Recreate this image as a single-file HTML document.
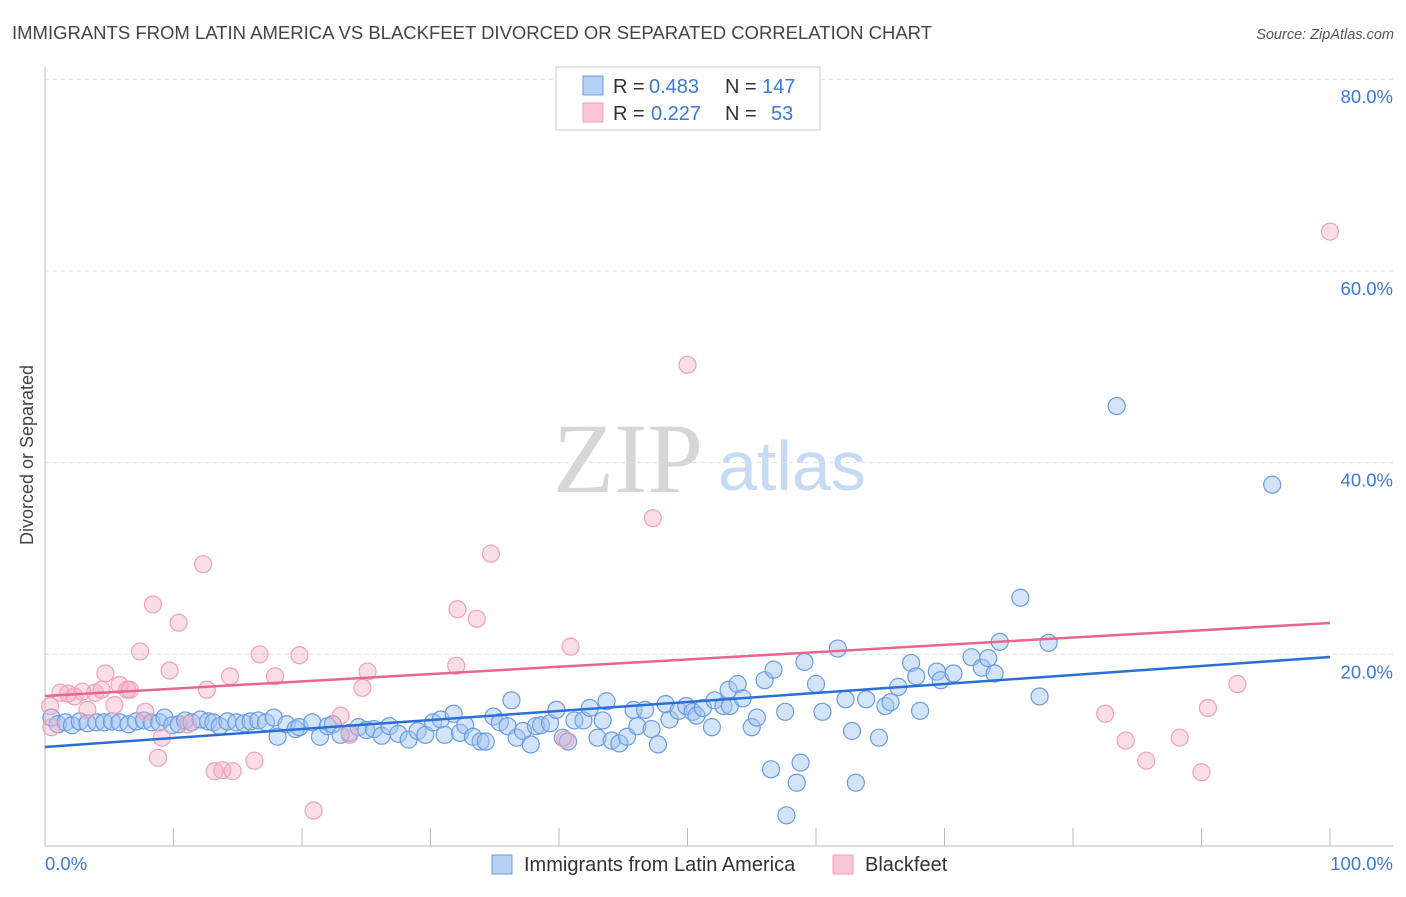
<!DOCTYPE html>
<html><head><meta charset="utf-8"><style>
body{margin:0;background:#fff}
svg text{font-family:"Liberation Sans",sans-serif}
</style></head><body>
<svg id="chart" width="1406" height="892" xmlns="http://www.w3.org/2000/svg">
<text x="12" y="39" font-size="18.5" fill="#444" textLength="920">IMMIGRANTS FROM LATIN AMERICA VS BLACKFEET DIVORCED OR SEPARATED CORRELATION CHART</text>
<text x="1394" y="39" font-size="14.5" fill="#555" font-style="italic" text-anchor="end">Source: ZipAtlas.com</text>
<text transform="translate(33,455) rotate(-90)" font-size="18" fill="#444" text-anchor="middle">Divorced or Separated</text>
<g>
<text x="553" y="492" style="font-family:'Liberation Serif',serif" font-size="100" fill="#d6d6d6">ZIP</text>
<text x="718" y="490" font-size="70" fill="#c6daf3">atlas</text>
</g>
<g id="grid"></g>
<g id="axes"></g>
<g id="pts"></g>
<g id="lines"></g>
<g>
<rect x="556" y="67" width="264" height="63" fill="#fff" stroke="#ccc"/>
<rect x="583" y="76" width="20" height="19" fill="#b7d1f4" stroke="#6a9be0"/>
<rect x="583" y="103" width="20" height="19" fill="#f9c7d5" stroke="#f0a0b8"/>
<text x="613" y="93" font-size="20" fill="#333">R =</text>
<text x="649" y="93" font-size="20" fill="#3b78d8">0.483</text>
<text x="725" y="93" font-size="20" fill="#333">N =</text>
<text x="762" y="93" font-size="20" fill="#3b78d8">147</text>
<text x="613" y="120" font-size="20" fill="#333">R =</text>
<text x="651" y="120" font-size="20" fill="#3b78d8">0.227</text>
<text x="725" y="120" font-size="20" fill="#333">N =</text>
<text x="771" y="120" font-size="20" fill="#3b78d8">53</text>
</g>
<g>
<rect x="492" y="855" width="20" height="19" fill="#b7d1f4" stroke="#6a9be0"/>
<text x="524" y="871" font-size="20" fill="#333">Immigrants from Latin America</text>
<rect x="833" y="855" width="20" height="19" fill="#f9c7d5" stroke="#f0a0b8"/>
<text x="865" y="871" font-size="20" fill="#333">Blackfeet</text>
</g>
</svg>
<script>
const yTicks=[20,40,60,80];
const yTickLabels=["20.0%","40.0%","60.0%","80.0%"];
const xTicks=[0,10,20,30,40,50,60,70,80,90,100];
const xEndLabels=["0.0%","100.0%"];
const blueX=[0.5,1.0,1.6,2.1,2.7,3.3,4.0,4.6,5.2,5.8,6.5,7.1,7.7,8.3,8.9,9.3,9.9,10.4,10.9,11.4,12.1,12.7,13.1,13.6,14.2,14.9,15.5,16.0,16.6,17.2,17.8,18.1,18.8,19.5,19.8,20.8,21.4,22.0,22.4,23.0,23.7,24.4,25.0,25.6,26.2,26.8,27.5,28.3,29.0,29.6,30.2,30.8,31.1,31.8,32.3,32.7,33.3,33.9,34.3,34.9,35.4,36.0,36.3,36.7,37.2,37.8,38.2,38.6,39.3,39.8,40.3,40.7,41.2,41.9,42.4,43.0,43.4,43.7,44.1,44.7,45.3,45.8,46.1,46.7,47.2,47.7,48.6,48.3,49.3,49.9,50.4,50.7,51.2,51.9,52.1,52.8,53.2,53.3,53.9,54.3,55.0,55.4,56.0,56.7,57.6,56.5,58.5,58.8,59.1,60.0,60.5,61.7,62.3,62.8,63.1,63.9,64.9,65.4,65.8,66.4,67.4,67.8,68.1,69.4,69.7,70.7,72.1,72.9,73.4,73.9,74.3,75.9,77.4,78.1,83.4,95.5,57.7];
const blueY=[13.4,12.7,12.9,12.6,13.0,12.8,12.9,12.9,13.0,12.9,12.7,13.0,13.1,12.9,12.9,13.4,12.6,12.7,13.1,12.9,13.2,13.0,12.9,12.5,13.0,12.9,12.8,13.0,13.1,12.9,13.4,11.4,12.7,12.2,12.4,12.9,11.4,12.5,12.7,11.6,11.8,12.4,12.1,12.2,11.5,12.5,11.7,11.1,12.0,11.6,12.9,13.2,11.6,13.8,11.8,12.6,11.4,10.9,10.9,13.5,12.9,12.5,15.2,11.3,12.0,10.6,12.5,12.6,12.8,14.2,11.3,10.9,13.1,13.1,14.4,11.3,13.1,15.1,11.0,10.7,11.4,14.2,12.5,14.2,12.2,10.6,13.2,14.8,14.1,14.6,14.0,13.6,14.4,12.4,15.2,14.6,16.3,14.6,16.9,15.4,12.4,13.4,17.3,18.4,14.0,8.0,6.6,8.7,19.2,16.9,14.0,20.6,15.3,12.0,6.6,15.3,11.3,14.6,15.0,16.6,19.1,17.7,14.1,18.2,17.3,18.0,19.7,18.6,19.6,18.0,21.3,25.9,15.6,21.2,45.9,37.7,3.2];
const pinkX=[0.4,0.5,1.2,1.8,2.3,2.9,3.3,3.9,4.4,4.7,5.4,5.8,6.4,6.6,7.4,7.8,8.4,8.8,9.1,9.7,10.4,11.1,12.3,12.6,13.2,13.8,14.4,14.6,16.3,16.7,17.9,19.8,20.9,23.0,23.7,24.7,25.1,32.0,32.1,33.6,34.7,40.5,40.9,47.3,50.0,82.5,84.1,85.7,88.3,90.0,90.5,92.8,100];
const pinkY=[14.6,12.4,16.0,15.9,15.6,16.1,14.2,16.0,16.3,18.0,14.7,16.8,16.3,16.3,20.3,14.0,25.2,9.2,11.3,18.3,23.3,12.7,29.4,16.3,7.8,7.9,17.7,7.8,8.9,20.0,17.7,19.9,3.7,13.6,11.6,16.5,18.2,18.8,24.7,23.7,30.5,11.1,20.8,34.2,50.2,13.8,11.0,8.9,11.3,7.7,14.4,16.9,64.1];
const blueTrend=[10.33,19.72];
const pinkTrend=[15.65,23.27];

const NS="http://www.w3.org/2000/svg";
const X=v=>45+v*12.85, Y=v=>846-v*9.585;
function mk(tag,parent,attrs){const e=document.createElementNS(NS,tag);for(const k in attrs)e.setAttribute(k,attrs[k]);document.getElementById(parent).appendChild(e);return e;}
yTicks.forEach((t,i)=>{
 const g=mk('line','grid',{x1:45,x2:1393,y1:Y(t),y2:Y(t),stroke:'#ddd','stroke-dasharray':'4,4'});
 
 
 const l=mk('text','grid',{x:1393,y:Y(t)+24,'font-size':18.5,fill:'#3b78d8','text-anchor':'end'});
 l.textContent=yTickLabels[i];
 
 
});
const ya=mk('line','axes',{x1:45,x2:45,y1:67,y2:846,stroke:'#bbb'});


const xa=mk('line','axes',{x1:45,x2:1393,y1:846,y2:846,stroke:'#bbb'});


xTicks.forEach(t=>{
 const tk=mk('line','axes',{x1:X(t),x2:X(t),y1:828,y2:846,stroke:'#bbb'});
 
 
});
const l0=mk('text','axes',{x:45,y:870,'font-size':18.5,fill:'#3b78d8'});l0.textContent=xEndLabels[0];


const l1=mk('text','axes',{x:1393,y:870,'font-size':18.5,fill:'#3b78d8','text-anchor':'end'});l1.textContent=xEndLabels[1];


blueX.forEach((x,i)=>{
 const c=mk('circle','pts',{cx:X(x),cy:Y(blueY[i]),r:8.5,fill:'rgba(160,196,240,0.45)',stroke:'#6a9be0','stroke-width':1.2});
 
 
});
pinkX.forEach((x,i)=>{
 const c=mk('circle','pts',{cx:X(x),cy:Y(pinkY[i]),r:8.5,fill:'rgba(245,170,195,0.4)',stroke:'#f0a0b8','stroke-width':1.2});
 
 
});
const bl=mk('line','lines',{x1:X(0),x2:X(100),y1:Y(blueTrend[0]),y2:Y(blueTrend[1]),stroke:'#2a6fd6','stroke-width':2.5});


const pl=mk('line','lines',{x1:X(0),x2:X(100),y1:Y(pinkTrend[0]),y2:Y(pinkTrend[1]),stroke:'#e8668e','stroke-width':2.5});


</script>
</body></html>
